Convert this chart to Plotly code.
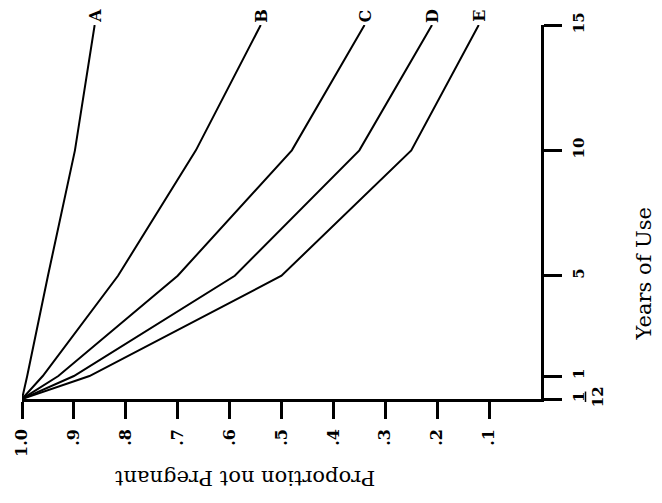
import plotly.graph_objects as go

# Data read from the (rotated) reference chart
years = [1/12, 1, 5, 10, 15]
curve_names = ["A", "B", "C", "D", "E"]
curve_A = [1.0, 0.99, 0.95, 0.898, 0.86]
curve_B = [1.0, 0.96, 0.815, 0.665, 0.54]
curve_C = [1.0, 0.93, 0.70, 0.48, 0.34]
curve_D = [1.0, 0.90, 0.59, 0.35, 0.21]
curve_E = [1.0, 0.87, 0.50, 0.25, 0.12]
prop_ticks = [1.0, 0.9, 0.8, 0.7, 0.6, 0.5, 0.4, 0.3, 0.2, 0.1]
prop_ticktext = ["1.0", ".9", ".8", ".7", ".6", ".5", ".4", ".3", ".2", ".1"]
year_ticks = [1/12, 1, 5, 10, 15]
year_ticktext = ["<u>1</u><br>12", "1", "5", "10", "15"]

curves = [curve_A, curve_B, curve_C, curve_D, curve_E]

SERIF = "DejaVu Serif"
fig = go.Figure()
for name, vals in zip(curve_names, curves):
    # chart is drawn rotated: proportion on horizontal axis, years vertical
    fig.add_trace(go.Scatter(x=vals, y=years, mode="lines", name=name,
                             line=dict(color="black", width=2), showlegend=False))
    fig.add_annotation(x=vals[-1], y=years[-1], text="<b>" + name + "</b>",
                       showarrow=False, textangle=-90, yshift=9,
                       font=dict(family=SERIF, size=16, color="black"))

fig.add_annotation(xref="paper", yref="paper", x=0.43, y=-0.25,
                   text="Proportion not Pregnant", showarrow=False, textangle=180,
                   font=dict(family=SERIF, size=21, color="black"))
fig.add_annotation(xref="paper", yref="paper", x=1.225, y=0.335,
                   text="Years of Use", showarrow=False, textangle=-90,
                   font=dict(family=SERIF, size=21, color="black"))

fig.update_layout(
    width=662, height=503,
    margin=dict(l=18, r=121, t=19, b=104),
    plot_bgcolor="white", paper_bgcolor="white",
    xaxis=dict(range=[1.0, 0.0], tickvals=prop_ticks, ticktext=prop_ticktext,
               showgrid=False, zeroline=False, showline=True, linecolor="black",
               linewidth=2.5, ticks="outside", ticklen=17, tickwidth=2.5,
               tickcolor="black", tickangle=-90, ticklabelstandoff=4,
               tickfont=dict(family=SERIF, size=16, color="black", weight="bold")),
    yaxis=dict(range=[1/12, 15], tickvals=year_ticks, ticktext=year_ticktext,
               side="right", showgrid=False, zeroline=False, showline=True,
               linecolor="black", linewidth=2.5, ticks="outside", ticklen=18,
               tickwidth=2.5, tickcolor="black", tickangle=-90,
               ticklabelstandoff=4,
               tickfont=dict(family=SERIF, size=15, color="black", weight="bold")),
)

fig.write_html("out.html")
